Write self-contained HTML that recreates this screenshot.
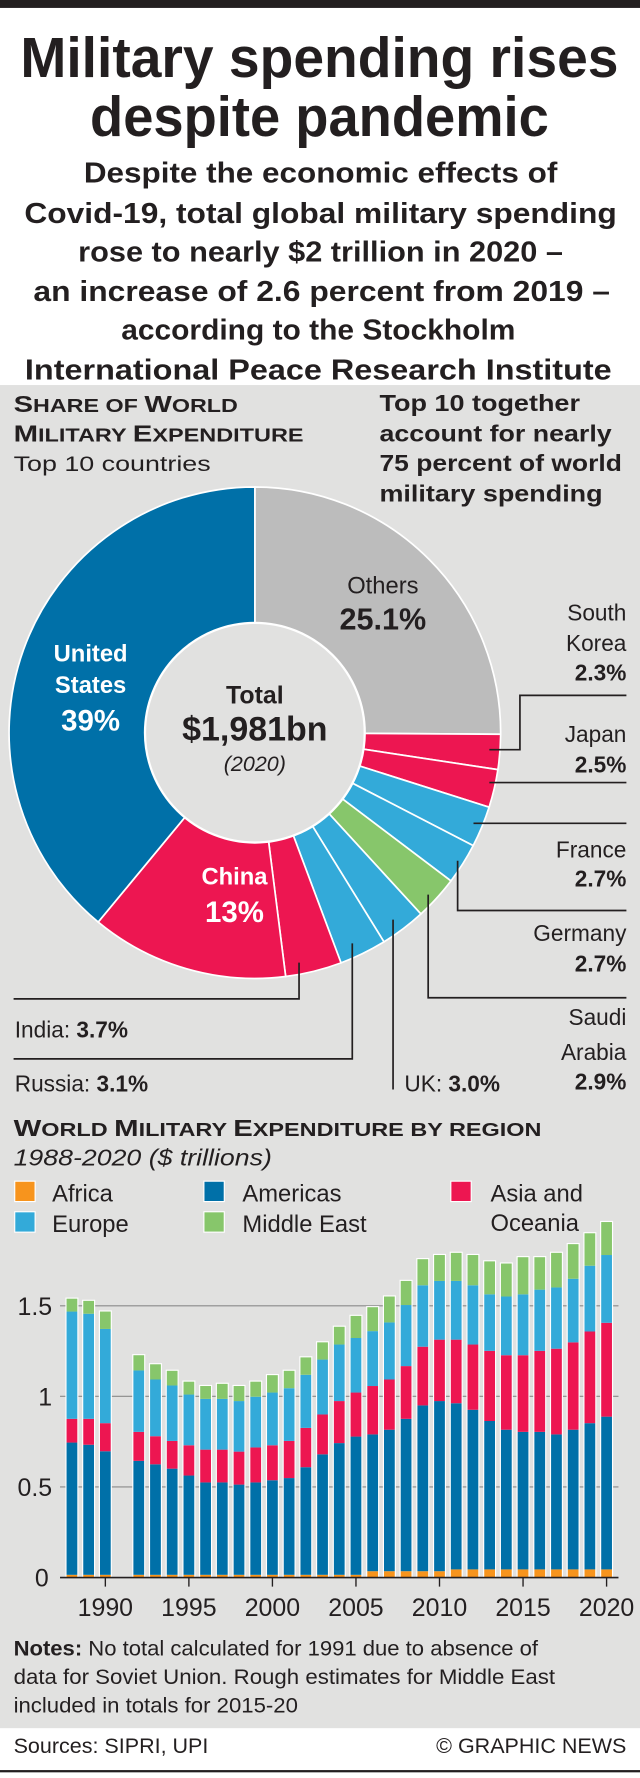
<!DOCTYPE html>
<html><head><meta charset="utf-8">
<style>
html,body{margin:0;padding:0;background:#fff;}
svg{display:block;}
text{font-family:"Liberation Sans",Arial,sans-serif;fill:#231f20;}
.c{font-family:"Liberation Sans Narrow","Liberation Sans",sans-serif;}
</style></head>
<body>
<svg id="s" xmlns="http://www.w3.org/2000/svg" width="640" height="1778" viewBox="0 0 565 1570" preserveAspectRatio="none">
<rect x="0" y="0" width="565" height="1570" fill="#fff"/>
<rect x="0" y="0" width="565" height="7" fill="#231f20"/>
<text x="282" y="68" text-anchor="middle" font-size="50" font-weight="bold" class="c" textLength="528" lengthAdjust="spacingAndGlyphs">Military spending rises</text>
<text x="282" y="120" text-anchor="middle" font-size="50" font-weight="bold" class="c" textLength="405" lengthAdjust="spacingAndGlyphs">despite pandemic</text>
<g font-size="25" font-weight="bold" text-anchor="middle" class="c">
<text x="283" y="161" textLength="418" lengthAdjust="spacingAndGlyphs">Despite the economic effects of</text>
<text x="283" y="197" textLength="523" lengthAdjust="spacingAndGlyphs">Covid-19, total global military spending</text>
<text x="283" y="231" textLength="428" lengthAdjust="spacingAndGlyphs">rose to nearly $2 trillion in 2020 –</text>
<text x="284" y="266" textLength="509" lengthAdjust="spacingAndGlyphs">an increase of 2.6 percent from 2019 –</text>
<text x="281" y="300" textLength="348" lengthAdjust="spacingAndGlyphs">according to the Stockholm</text>
<text x="281" y="335" textLength="518" lengthAdjust="spacingAndGlyphs">International Peace Research Institute</text>
</g>
<rect x="0" y="340" width="565" height="1186" fill="#e1e1e0"/>
<g class="c">
<text x="12" y="364" font-size="20" font-weight="bold" textLength="198" lengthAdjust="spacingAndGlyphs">S<tspan font-size="16">HARE OF </tspan>W<tspan font-size="16">ORLD</tspan></text>
<text x="12" y="390" font-size="20" font-weight="bold" textLength="256" lengthAdjust="spacingAndGlyphs">M<tspan font-size="16">ILITARY </tspan>E<tspan font-size="16">XPENDITURE</tspan></text>
<text x="12" y="416" font-size="19" textLength="174" lengthAdjust="spacingAndGlyphs">Top 10 countries</text>
<g font-size="20" font-weight="bold">
<text x="335" y="363" textLength="177" lengthAdjust="spacingAndGlyphs">Top 10 together</text>
<text x="335" y="390" textLength="205" lengthAdjust="spacingAndGlyphs">account for nearly</text>
<text x="335" y="416" textLength="214" lengthAdjust="spacingAndGlyphs">75 percent of world</text>
<text x="335" y="443" textLength="197" lengthAdjust="spacingAndGlyphs">military spending</text>
</g>
</g>
<g id="pie"></g>
<circle cx="225" cy="647" r="97" fill="#e1e1e0" stroke="#fff" stroke-width="2"/>
<g class="c" text-anchor="middle">
<text x="225" y="621" font-size="22" font-weight="bold">Total</text>
<text x="225" y="654" font-size="30" font-weight="bold">$1,981bn</text>
<text x="225" y="681" font-size="19" font-style="italic">(2020)</text>
<text x="338" y="524" font-size="21">Others</text>
<text x="338" y="556" font-size="27" font-weight="bold">25.1%</text>
<text x="80" y="584" font-size="21" font-weight="bold" style="fill:#fff">United</text>
<text x="80" y="612" font-size="21" font-weight="bold" style="fill:#fff">States</text>
<text x="80" y="645" font-size="26" font-weight="bold" style="fill:#fff">39%</text>
<text x="207" y="781" font-size="21" font-weight="bold" style="fill:#fff">China</text>
<text x="207" y="814" font-size="26" font-weight="bold" style="fill:#fff">13%</text>
</g>
<g stroke="#231f20" stroke-width="1.5" fill="none">
<polyline points="432,662 459,662 459,614 553,614"/>
<polyline points="432,691 553,691"/>
<polyline points="418,727 553,727"/>
<polyline points="404,760 404,804 553,804"/>
<polyline points="378,790 378,881 553,881"/>
<polyline points="347,812 347,962"/>
<polyline points="311,833 311,935 12,935"/>
<polyline points="264,850 264,882 12,882"/>
</g>
<g class="c" font-size="20" text-anchor="end">
<text x="553" y="548">South</text>
<text x="553" y="575">Korea</text>
<text x="553" y="601" font-weight="bold">2.3%</text>
<text x="553" y="655">Japan</text>
<text x="553" y="682" font-weight="bold">2.5%</text>
<text x="553" y="757">France</text>
<text x="553" y="783" font-weight="bold">2.7%</text>
<text x="553" y="831">Germany</text>
<text x="553" y="858" font-weight="bold">2.7%</text>
<text x="553" y="905">Saudi</text>
<text x="553" y="936">Arabia</text>
<text x="553" y="962" font-weight="bold">2.9%</text>
</g>
<g class="c" font-size="20">
<text x="13" y="916">India: <tspan font-weight="bold">3.7%</tspan></text>
<text x="13" y="964">Russia: <tspan font-weight="bold">3.1%</tspan></text>
<text x="357" y="964">UK: <tspan font-weight="bold">3.0%</tspan></text>
</g>
<text x="12" y="1003" font-size="20" font-weight="bold" textLength="466" lengthAdjust="spacingAndGlyphs">W<tspan font-size="16">ORLD </tspan>M<tspan font-size="16">ILITARY </tspan>E<tspan font-size="16">XPENDITURE BY REGION</tspan></text>
<text x="12" y="1029" font-size="20" font-style="italic" textLength="228" lengthAdjust="spacingAndGlyphs">1988-2020 ($ trillions)</text>
<g font-size="21">
<rect x="13" y="1043" width="18" height="18" fill="#f7941d" stroke="#fff"/><text x="46" y="1061">Africa</text>
<rect x="180" y="1043" width="18" height="18" fill="#0070a8" stroke="#fff"/><text x="214" y="1061">Americas</text>
<rect x="398" y="1043" width="18" height="18" fill="#ed1651" stroke="#fff"/><text x="433" y="1061">Asia and</text><text x="433" y="1087">Oceania</text>
<rect x="13" y="1070" width="18" height="18" fill="#33aad9" stroke="#fff"/><text x="46" y="1088">Europe</text>
<rect x="180" y="1070" width="18" height="18" fill="#87c66b" stroke="#fff"/><text x="214" y="1088">Middle East</text>
</g>
<g stroke="#8a8a8a" stroke-width="1">
<line x1="53" y1="1153" x2="546" y2="1153"/>
<line x1="53" y1="1233" x2="546" y2="1233"/>
<line x1="53" y1="1313" x2="546" y2="1313"/>
</g>
<g font-size="22" text-anchor="end">
<text x="46" y="1161">1.5</text>
<text x="46" y="1241">1</text>
<text x="46" y="1321">0.5</text>
<text x="43" y="1401">0</text>
</g>
<g id="bars"></g>
<line x1="53" y1="1393" x2="546" y2="1393" stroke="#231f20" stroke-width="1.5"/>
<g id="ticks" stroke="#231f20" stroke-width="1.2"></g>
<g id="xl" font-size="22" text-anchor="middle"></g>
<g font-size="19">
<text x="12" y="1462" textLength="463" lengthAdjust="spacingAndGlyphs"><tspan font-weight="bold">Notes:</tspan> No total calculated for 1991 due to absence of</text>
<text x="12" y="1487" textLength="478" lengthAdjust="spacingAndGlyphs">data for Soviet Union. Rough estimates for Middle East</text>
<text x="12" y="1512" textLength="251" lengthAdjust="spacingAndGlyphs">included in totals for 2015-20</text>
</g>
<text x="12" y="1548" font-size="19">Sources: SIPRI, UPI</text>
<text x="553" y="1548" font-size="19" text-anchor="end">© GRAPHIC NEWS</text>
<rect x="0" y="1563" width="565" height="2" fill="#231f20"/>
<script>
var NS="http://www.w3.org/2000/svg";
function el(t,a,p){var e=document.createElementNS(NS,t);for(var k in a)e.setAttribute(k,a[k]);p.appendChild(e);return e;}
var pie=document.getElementById("pie");
var cx=225,cy=647,R=217;
var sl=[[25.1,"#bcbcbc"],[2.3,"#ed1651"],[2.5,"#ed1651"],[2.7,"#33aad9"],[2.7,"#33aad9"],[2.9,"#87c66b"],[3.0,"#33aad9"],[3.1,"#33aad9"],[3.7,"#ed1651"],[13,"#ed1651"],[39,"#0070a8"]];
var a=0;
sl.forEach(function(s){
 var a0=a/100*2*Math.PI,a1=(a+s[0])/100*2*Math.PI;a+=s[0];
 var x0=cx+R*Math.sin(a0),y0=cy-R*Math.cos(a0),x1=cx+R*Math.sin(a1),y1=cy-R*Math.cos(a1);
 var lg=(a1-a0)>Math.PI?1:0;
 el("path",{d:"M"+cx+","+cy+" L"+x0+","+y0+" A"+R+","+R+" 0 "+lg+" 1 "+x1+","+y1+" Z",fill:s[1],stroke:"#fff","stroke-width":"1.5"},pie);
});
var d={1988:[.745,.876,1.468,1.539],1989:[.733,.876,1.456,1.527],1990:[.697,.852,1.372,1.468],
1992:[.644,.804,1.143,1.227],1993:[.625,.780,1.093,1.177],1994:[.601,.754,1.060,1.141],1995:[.563,.730,1.010,1.081],
1996:[.525,.706,.986,1.057],1997:[.525,.706,.986,1.069],1998:[.513,.695,.974,1.057],1999:[.525,.718,.998,1.081],
2000:[.537,.730,1.021,1.117],2001:[.549,.754,1.045,1.141],2002:[.609,.826,1.119,1.215],2003:[.680,.900,1.203,1.298],
2004:[.742,.974,1.286,1.384],2005:[.778,1.021,1.322,1.444],2006:[.790,1.057,1.360,1.492],2007:[.816,1.093,1.408,1.551],
2008:[.876,1.167,1.504,1.637],2009:[.950,1.274,1.613,1.757],2010:[.974,1.313,1.637,1.780],2011:[.962,1.313,1.637,1.792],
2012:[.926,1.286,1.613,1.780],2013:[.864,1.251,1.563,1.745],2014:[.816,1.227,1.551,1.733],2015:[.804,1.227,1.563,1.768],
2016:[.804,1.251,1.589,1.768],2017:[.790,1.263,1.601,1.792],2018:[.816,1.298,1.649,1.840],2019:[.852,1.358,1.721,1.900],
2020:[.888,1.406,1.780,1.962]};
var bars=document.getElementById("bars");
var Y0=1393,K=160,W=9.5;
function Y(v){return Y0-v*K;}
for(var yr in d){
 var v=d[yr],x=63.5+(yr-1988)*14.75-W/2;
 var af=yr<2006?0.015:(yr<2011?0.035:0.045);
 el("rect",{x:x-1,y:Y(v[3])-1,width:W+2,height:v[3]*K+1,fill:"#fff"},bars);
 var segs=[[0,af,"#f7941d"],[af,v[0],"#0070a8"],[v[0],v[1],"#ed1651"],[v[1],v[2],"#33aad9"],[v[2],v[3],"#87c66b"]];
 segs.forEach(function(s){el("rect",{x:x,y:Y(s[1]),width:W,height:(s[1]-s[0])*K,fill:s[2]},bars);});
}
var tk=document.getElementById("ticks"),xl=document.getElementById("xl");
for(var y=1990;y<=2020;y+=5){var xx=63.5+(y-1988)*14.75;
 el("line",{x1:xx,y1:1393,x2:xx,y2:1401},tk);
 var t=el("text",{x:xx,y:1427},xl);t.textContent=y;}
</script>
</svg>
</body></html>
